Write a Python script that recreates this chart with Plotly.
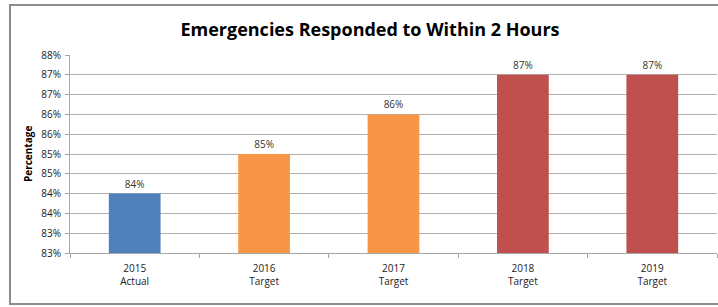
import plotly.graph_objects as go

categories = ["2015<br>Actual", "2016<br>Target", "2017<br>Target", "2018<br>Target", "2019<br>Target"]
values = [84, 85, 86, 87, 87]
bar_labels = ["84%", "85%", "86%", "87%", "87%"]
bar_colors = ["#4F81BD", "#F79646", "#F79646", "#C0504D", "#C0504D"]
tick_vals = [82.5, 83.0, 83.5, 84.0, 84.5, 85.0, 85.5, 86.0, 86.5, 87.0, 87.5]
tick_text = ["83%", "83%", "84%", "84%", "85%", "85%", "86%", "86%", "87%", "87%", "88%"]
axis_base = 82.5

W, H = 718, 307
ml, mr, mt, mb = 70, 1, 55, 54
pw = W - ml - mr
ph = H - mt - mb

fig = go.Figure()
fig.add_trace(go.Bar(
    x=categories, y=[v - axis_base for v in values], base=axis_base,
    marker=dict(color=bar_colors, line=dict(width=0)),
    width=0.40,
    text=bar_labels, textposition="outside",
    textfont=dict(family="Open Sans, sans-serif", size=10, color="#333333"),
    cliponaxis=False,
))

fig.add_shape(type="rect", xref="paper", yref="paper",
              x0=(10 - ml) / pw, x1=(W + 20 - ml) / pw,
              y0=(H - mb - 304) / ph, y1=(H - mb - 5) / ph,
              line=dict(color="#8c8c8c", width=2), fillcolor="rgba(0,0,0,0)", layer="below")

fig.add_annotation(text="<b>Percentage</b>", xref="paper", yref="paper",
                   x=(28 - ml) / pw, y=0.5, textangle=-90, showarrow=False,
                   xanchor="center", yanchor="middle",
                   font=dict(family="Open Sans, sans-serif", size=10, color="#000000"))

fig.update_layout(
    width=W, height=H,
    margin=dict(l=ml, r=mr, t=mt, b=mb, autoexpand=False),
    paper_bgcolor="white", plot_bgcolor="white",
    showlegend=False,
    title=dict(text="<b>Emergencies Responded to Within 2 Hours</b>",
               x=370 / W, xanchor="center", y=1 - 30 / H, yanchor="middle",
               font=dict(family="Open Sans, sans-serif", size=18, color="#000000")),
    font=dict(family="Open Sans, sans-serif", size=10, color="#333333"),
)
fig.update_xaxes(
    automargin=False,
    showgrid=False, showline=True, linecolor="#a6a6a6", linewidth=1,
    ticks="outside", ticklen=4, tickcolor="#a6a6a6", tickson="boundaries",
    ticklabelstandoff=6,
    tickfont=dict(family="Open Sans, sans-serif", size=10, color="#222222"),
    range=[-0.5, 4.5],
)
fig.update_yaxes(
    automargin=False,
    range=[axis_base, 87.5], tickvals=tick_vals, ticktext=tick_text,
    showgrid=True, gridcolor="#b0b0b0", gridwidth=1,
    showline=True, linecolor="#a6a6a6", linewidth=1,
    ticks="outside", ticklen=4, tickcolor="#a6a6a6",
    ticklabelstandoff=2,
    tickfont=dict(family="Open Sans, sans-serif", size=10, color="#222222"),
    zeroline=False,
)

fig.write_html("out.html", config={"displayModeBar": False},
               post_script="document.body.style.margin='0';document.body.style.overflow='hidden';")
